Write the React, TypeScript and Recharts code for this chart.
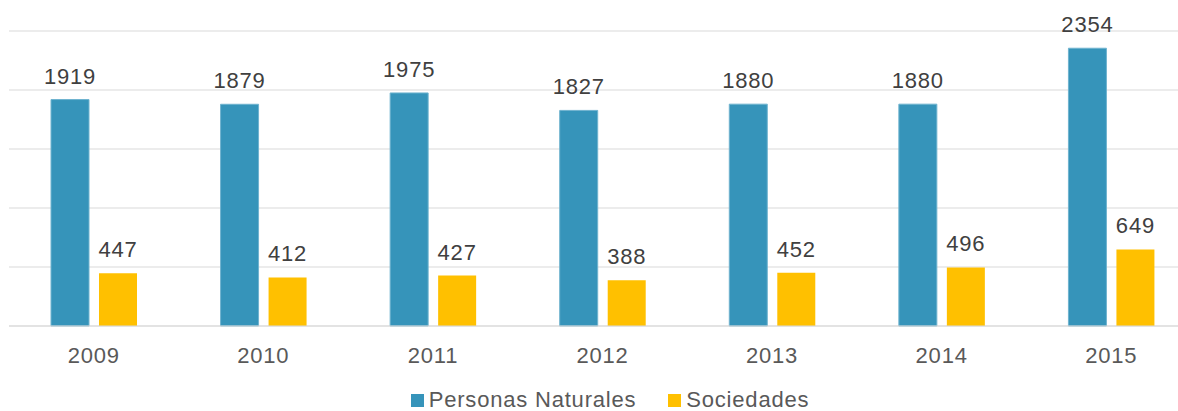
import React from 'react';
import { BarChart, Bar, XAxis, YAxis, CartesianGrid, Legend, LabelList } from 'recharts';

const years = ['2009', '2010', '2011', '2012', '2013', '2014', '2015'];
const personasNaturales = [1919, 1879, 1975, 1827, 1880, 1880, 2354];
const sociedades = [447, 412, 427, 388, 452, 496, 649];
const yTicks = [0, 500, 1000, 1500, 2000, 2500];

const data = years.map((year, i) => ({
  year,
  personas: personasNaturales[i],
  sociedades: sociedades[i],
}));

const FONT = '"Liberation Sans", Arial, sans-serif';

function CustomLegend() {
  const items = [
    { label: 'Personas Naturales', color: '#3694BA' },
    { label: 'Sociedades', color: '#FFC000' },
  ];
  return (
    <div
      style={{
        height: 40,
        boxSizing: 'border-box',
        paddingTop: 18,
        paddingLeft: 15,
        textAlign: 'center',
        fontFamily: FONT,
        fontSize: 22,
        lineHeight: '22px',
        letterSpacing: 0.8,
        color: '#595959',
        whiteSpace: 'nowrap',
      }}
    >
      {items.map((it, i) => (
        <span key={it.label} style={{ marginLeft: i === 0 ? 0 : 32 }}>
          <span
            style={{
              display: 'inline-block',
              width: 13,
              height: 13,
              background: it.color,
              marginRight: 5,
            }}
          />
          {it.label}
        </span>
      ))}
    </div>
  );
}

export default function App() {
  return (
    <div
      style={{
        position: 'fixed',
        left: 0,
        top: 0,
        width: 1178,
        height: 411,
        overflow: 'hidden',
        background: '#fff',
      }}
    >
      <BarChart
        width={1196}
        height={411}
        data={data}
        margin={{ top: 31, right: 0, left: 9, bottom: 0 }}
        barSize={38}
        barGap={10}
      >
        <CartesianGrid vertical={false} stroke="#d9d9d9" strokeWidth={1.2} />
        <XAxis
          dataKey="year"
          height={45}
          axisLine={{ stroke: '#d9d9d9', strokeWidth: 1.2 }}
          tickLine={false}
          tickSize={0}
          tickMargin={21}
          tick={{ fill: '#595959', fontSize: 22, fontFamily: FONT, letterSpacing: 0.8 }}
        />
        <YAxis hide domain={[0, 2500]} ticks={yTicks} />
        <Legend verticalAlign="bottom" content={<CustomLegend />} />
        <Bar dataKey="personas" fill="#3694BA" stroke="#6FB3CF" strokeWidth={1} isAnimationActive={false}>
          <LabelList
            dataKey="personas"
            position="top"
            offset={16}
            style={{ fill: '#404040', fontSize: 22, fontFamily: FONT, letterSpacing: 0.8 }}
          />
        </Bar>
        <Bar dataKey="sociedades" fill="#FFC000" isAnimationActive={false}>
          <LabelList
            dataKey="sociedades"
            position="top"
            offset={16}
            style={{ fill: '#404040', fontSize: 22, fontFamily: FONT, letterSpacing: 0.8 }}
          />
        </Bar>
      </BarChart>
    </div>
  );
}
